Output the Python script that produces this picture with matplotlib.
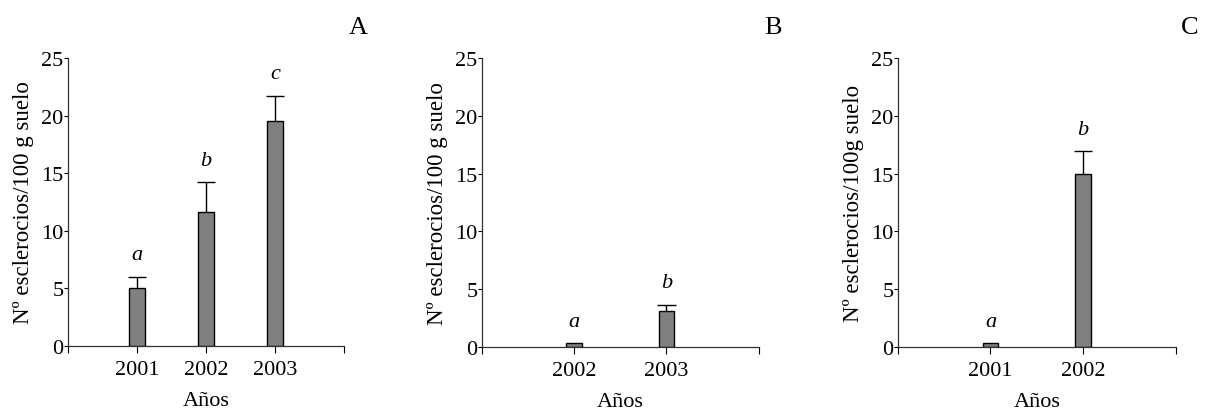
import matplotlib.pyplot as plt

plt.rcParams['font.family'] = ['Liberation Serif', 'DejaVu Serif']

# sclerotia counts per 100 g soil, three sites
years_a = ['2001', '2002', '2003']
means_a = [5.05, 11.6, 19.55]
err_a = [0.95, 2.6, 2.2]
letters_a = ['a', 'b', 'c']

years_b = ['2002', '2003']
means_b = [0.3, 3.07]
err_b = [0.0, 0.57]
letters_b = ['a', 'b']

years_c = ['2001', '2002']
means_c = [0.3, 15.0]
err_c = [0.0, 1.95]
letters_c = ['a', 'b']

panels = [
    ('A', years_a, means_a, err_a, letters_a, 'Nº esclerocios/100 g suelo',
     [0.0557, 0.1544, 0.2272, 0.701], 0.23),
    ('B', years_b, means_b, err_b, letters_b, 'Nº esclerocios/100 g suelo',
     [0.3961, 0.152, 0.2280, 0.703], 0.17),
    ('C', years_c, means_c, err_c, letters_c, 'Nº esclerocios/100g suelo',
     [0.7382, 0.152, 0.2289, 0.703], 0.17),
]

fig = plt.figure(figsize=(12.16, 4.10), dpi=100)

for tag, years, means, errs, letters, ylab, rect, width in panels:
    ax = fig.add_axes(rect)
    pos = list(range(1, len(years) + 1))
    ax.bar(pos, means, width=width, color='#808080', edgecolor='black',
           linewidth=1.0, zorder=2)
    # upper error bars only: stem from bar top plus a cap
    for p, m, e in zip(pos, means, errs):
        if e > 0:
            ax.vlines(p, m, m + e, color='black', linewidth=1.0, zorder=1)
            ax.hlines(m + e, p - width * 0.58, p + width * 0.58,
                      color='black', linewidth=1.0, zorder=1)
    for p, m, e, l in zip(pos, means, errs, letters):
        ax.text(p, m + e + 1.9, l, ha='center', va='center', fontsize=16,
                style='italic')

    ax.set_xlim(0, len(years) + 1)
    ax.set_ylim(0, 25)
    ax.set_xticks([0] + pos + [len(years) + 1])
    ax.set_xticklabels([''] + years + [''], fontsize=16)
    ax.set_yticks([0, 5, 10, 15, 20, 25])
    ax.set_yticklabels(['0', '5', '10', '15', '20', '25'], fontsize=16)
    ax.tick_params(axis='y', length=3, pad=0, width=0.8)
    ax.tick_params(axis='x', length=5, pad=5, width=0.8)
    for side in ['top', 'right']:
        ax.spines[side].set_visible(False)
    for side in ['left', 'bottom']:
        ax.spines[side].set_color('#333333')
        ax.spines[side].set_linewidth(0.9)
    ax.set_xlabel('Años', fontsize=16, labelpad=9)
    ax.set_ylabel(ylab, fontsize=16.5, labelpad=5)
    ax.text(1.05, 1.11, tag, transform=ax.transAxes, fontsize=19,
            ha='center', va='center')

fig.savefig('out.png', dpi=100)
